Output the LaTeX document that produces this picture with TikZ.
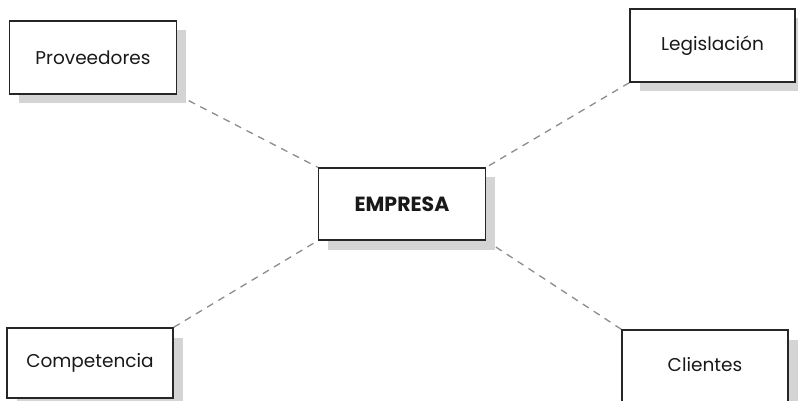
\documentclass[tikz,border=0pt]{standalone}
\usepackage{fontspec}
\setmainfont{Poppins}
\usetikzlibrary{shadows,backgrounds}
\begin{document}
\begin{tikzpicture}[x=1pt,y=-1pt,
  box/.style={draw=black!85, line width=1.4pt, fill=white, minimum width=167pt, minimum height=73pt, inner sep=0pt,
    font=\fontsize{18.5}{22}\selectfont, text=black!90,
    general shadow={fill=black!17, shadow xshift=9.5pt, shadow yshift=-9.5pt}},
  link/.style={draw=black!45, line width=1.3pt, dash pattern=on 7pt off 6pt}]
\useasboundingbox (0,0) rectangle (798,401);
\node[box] (prov) at (93,57.5) {Proveedores};
\node[box, minimum width=165pt] (leg) at (712.5,45.5) {Legislación};
\node[box, minimum height=72pt, font=\fontsize{20.5}{24}\selectfont\bfseries] (emp) at (402,204) {EMPRESA};
\node[box, minimum width=166pt, minimum height=70pt] (comp) at (90,363) {Competencia};
\node[box, minimum width=166pt, minimum height=72pt] (cli) at (705,366) {\raisebox{3.5pt}{Clientes}};
\begin{pgfonlayer}{background}
\draw[link] (prov.south east) -- (emp.north west);
\draw[link] (leg.south west) -- (emp.north east);
\draw[link] (comp.north east) -- (emp.south west);
\draw[link] (cli.north west) -- (emp.south east);
\end{pgfonlayer}
\end{tikzpicture}
\end{document}
